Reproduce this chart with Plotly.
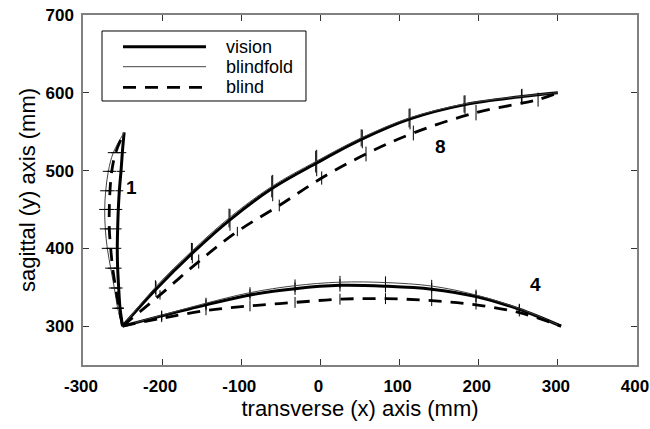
import plotly.graph_objects as go

# ---------------- data (mm) ----------------
# Target 8 (up-right)
vision8_x = [-250, -207.8, -161.9, -114.3, -60.3, -4.7, 52.9, 113.2, 182.7, 254.7, 300]
vision8_y = [300, 347.5, 393.8, 436.7, 477.5, 509.7, 540.6, 566.4, 584.8, 595.1, 600]
vision8_err = [0, 10, 13, 14, 17, 17, 12, 13.5, 12, 10, 0]

blindfold8_x = [-250, -208.5, -163, -115.5, -61.5, -6, 51.5, 112, 181.5, 254, 300]
blindfold8_y = [300, 350, 396, 439, 479.5, 511.5, 542, 567.5, 585.5, 595.5, 600]
blindfold8_err = [0, 9, 11, 12, 14, 14, 11, 12, 11, 9, 0]

blind8_x = [-250, -202.7, -153.8, -105, -52, 1.6, 57.6, 117.4, 196.6, 275, 300]
blind8_y = [300, 340.1, 383, 421.6, 455.1, 490.4, 521.3, 548.3, 574.5, 591.2, 600]
blind8_err = [0, 6, 9, 6, 7.5, 8.5, 9.5, 9.5, 10, 9, 0]

# Target 4 (right)
vision4_x = [-250, -200.6, -144.6, -89, -32.1, 24.7, 82.2, 140.6, 196.6, 251.3, 304]
vision4_y = [300, 313.1, 327.3, 340.1, 348.1, 352.4, 351.3, 347.5, 338, 321.7, 300]
vision4_err = [0, 6, 7, 7, 8, 8, 8, 8, 7, 6, 0]

blindfold4_x = [-250, -200.6, -144.6, -89, -32.1, 24.7, 82.2, 140.6, 196.6, 251.3, 304]
blindfold4_y = [300, 314, 329.5, 343, 352, 356.5, 356, 351.5, 340, 322.7, 300]
blindfold4_err = [0, 6, 7, 7, 8, 8, 8, 8, 7, 6, 0]

blind4_x = [-250, -200.6, -144.6, -89, -32.1, 24.7, 82.2, 140.6, 196.6, 251.3, 304]
blind4_y = [300, 310.1, 320, 326, 330.5, 334.6, 335.3, 332.8, 327.3, 317.4, 300]
blind4_err = [0, 5, 6, 7, 7, 7, 7, 7, 6, 5, 0]

# Target 1 (up)
vision1_x = [-250, -253.2, -254.9, -256.2, -256.7, -256.2, -255.4, -254.1, -252, -250.3, -248]
vision1_y = [300, 323, 349, 374.5, 400, 425, 450, 474, 499, 523, 549]
vision1_err = [0, 5, 5, 5, 5, 5, 5, 5, 5, 5, 0]

blindfold1_x = [-250, -256.2, -260.4, -265, -269.3, -271.8, -272.6, -271.3, -268, -261.7, -248]
blindfold1_y = [300, 323, 349, 374.5, 400, 425, 450, 474, 499, 523, 549]
blindfold1_err = [0, 7, 7, 7, 7, 7, 7, 7, 7, 7, 0]

blind1_x = [-250, -254.5, -258.7, -262.5, -265, -266.8, -266.8, -265.9, -263.7, -258.7, -248]
blind1_y = [300, 323, 349, 374.5, 400, 425, 450, 474, 499, 523, 549]
blind1_err = [0, 6, 6, 6, 6, 6, 6, 6, 6, 6, 0]

target_labels = ["1", "8", "4"]
label_x = [-239, 152, 272]
label_y = [478, 531, 354]

x_ticks = [-300, -200, -100, 0, 100, 200, 300, 400]
x_ticktext = ["-300", "-200", "-100", "0", "100", "200", "300", "400"]
y_ticks = [300, 400, 500, 600, 700]
y_ticktext = ["300", "400", "500", "600", "700"]

legend_names = ["vision", "blindfold", "blind"]

# ---------------- figure ----------------
styles = {
    "vision": dict(color="black", width=3, dash="solid"),
    "blindfold": dict(color="#444444", width=1, dash="solid"),
    "blind": dict(color="black", width=2.8, dash="13px,9px"),
}

sets = [
    ("vision", vision8_x, vision8_y, vision8_err, "y"),
    ("blindfold", blindfold8_x, blindfold8_y, blindfold8_err, "y"),
    ("blind", blind8_x, blind8_y, blind8_err, "y"),
    ("vision", vision4_x, vision4_y, vision4_err, "y"),
    ("blindfold", blindfold4_x, blindfold4_y, blindfold4_err, "y"),
    ("blind", blind4_x, blind4_y, blind4_err, "y"),
    ("vision", vision1_x, vision1_y, vision1_err, "x"),
    ("blindfold", blindfold1_x, blindfold1_y, blindfold1_err, "x"),
    ("blind", blind1_x, blind1_y, blind1_err, "x"),
]

fig = go.Figure()
for name, xs, ys, err, axis in sets:
    eb = dict(type="data", array=err, symmetric=True, width=0,
              thickness=1, color="black", visible=True)
    kw = {"error_y": eb} if axis == "y" else {"error_x": eb}
    fig.add_trace(go.Scatter(
        x=xs, y=ys, mode="lines", name=name, showlegend=False,
        line=dict(shape="spline", **styles[name]),
        **kw,
    ))

for t, lx, ly in zip(target_labels, label_x, label_y):
    fig.add_annotation(x=lx, y=ly, text=t, showarrow=False,
                       font=dict(family="Liberation Sans", size=19, color="black", weight="bold"))

# legend key (box, sample lines, labels) in plot-area fractions
leg_x0, leg_x1, leg_y0, leg_y1 = 0.0343, 0.4025, 0.7543, 0.9543
key_x0, key_x1, key_text_x = 0.0722, 0.2220, 0.2545
key_rows = [0.9094, 0.8523, 0.7934]
fig.add_shape(type="rect", xref="paper", yref="paper", x0=leg_x0, x1=leg_x1,
              y0=leg_y0, y1=leg_y1, line=dict(color="black", width=1), fillcolor="white",
              layer="above")
for name, ry in zip(legend_names, key_rows):
    st = styles[name]
    fig.add_shape(type="line", xref="paper", yref="paper", x0=key_x0, x1=key_x1,
                  y0=ry, y1=ry, line=dict(color=st["color"], width=st["width"], dash=st["dash"]),
                  layer="above")
    fig.add_annotation(xref="paper", yref="paper", x=key_text_x, y=ry, text=name,
                       showarrow=False, xanchor="left", yanchor="middle",
                       font=dict(family="Liberation Sans", size=18, color="black"))

axis_common = dict(
    showgrid=False, zeroline=False, showline=True, linecolor="#808080", linewidth=1.5,
    mirror="ticks", ticks="inside", ticklen=6, tickwidth=1, tickcolor="#333333",
    automargin=False, ticklabeloverflow="allow",
    tickfont=dict(family="Liberation Sans", size=17, color="black", weight="bold"),
)

fig.update_xaxes(range=[-300, 400], tickvals=x_ticks, ticktext=x_ticktext, ticklabelstandoff=5,
                 ticklabelshift=-2,
                 title=dict(text="transverse (x) axis (mm)", standoff=4,
                            font=dict(family="Liberation Sans", size=22, color="black")),
                 **axis_common)
fig.update_yaxes(range=[250, 700], tickvals=y_ticks, ticktext=y_ticktext, ticklabelstandoff=4,
                 title=dict(text="sagittal (y) axis (mm)", standoff=4,
                            font=dict(family="Liberation Sans", size=22, color="black")),
                 **axis_common)

fig.update_layout(
    width=650, height=429,
    margin=dict(l=83, r=13, t=15, b=64, autoexpand=False),
    plot_bgcolor="white", paper_bgcolor="white",
    showlegend=False,
)

fig.write_html("out.html", config={"displayModeBar": False},
               post_script="document.body.style.margin='0';document.body.style.overflow='hidden';")
